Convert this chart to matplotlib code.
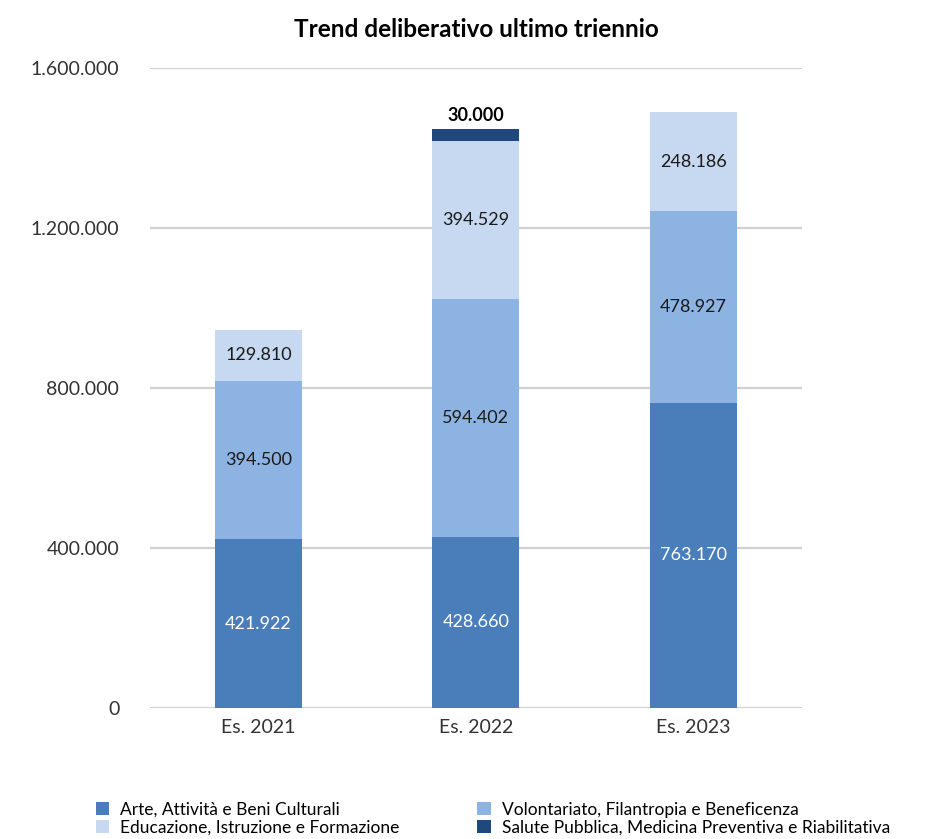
"""
Trend deliberativo ultimo triennio - stacked bars
"""
import matplotlib.pyplot as plt
from matplotlib.ticker import FuncFormatter

plt.rcParams['font.family'] = ['Lato', 'DejaVu Sans']

years = ['Es. 2021', 'Es. 2022', 'Es. 2023']
arte = [421922, 428660, 763170]
volontariato = [394500, 594402, 478927]
educazione = [129810, 394529, 248186]
salute = [0, 30000, 0]

series = [
    ('Arte, Attività e Beni Culturali', arte, '#4a7ebb', 'white'),
    ('Volontariato, Filantropia e Beneficenza', volontariato, '#8db3e2', '#1a1a1a'),
    ('Educazione, Istruzione e Formazione', educazione, '#c6d9f0', '#1a1a1a'),
    ('Salute Pubblica, Medicina Preventiva e Riabilitativa', salute, '#1f497d', '#1a1a1a'),
]


def it_fmt(v):
    return f'{int(round(v)):,}'.replace(',', '.')


fig = plt.figure(figsize=(9.25, 8.39), dpi=100)
ax = fig.add_axes([0.162, 0.156, 0.705, 0.763])

x = range(len(years))
bottom = [0, 0, 0]
handles = {}
for name, vals, color, tcolor in series:
    bars = ax.bar(x, vals, width=0.4, bottom=bottom, color=color, zorder=3)
    handles[name] = bars
    for i, v in enumerate(vals):
        if v == 0:
            continue
        if name.startswith('Salute'):
            ax.text(i, bottom[i] + v + 12000, it_fmt(v), ha='center', va='bottom',
                    fontsize=13, fontweight='bold', color='black')
        else:
            ax.text(i, bottom[i] + v / 2, it_fmt(v), ha='center', va='center',
                    fontsize=13, color=tcolor)
    bottom = [b + v for b, v in zip(bottom, vals)]

ax.set_xlim(-0.5, 2.5)
ax.set_ylim(0, 1600000)
ax.set_yticks([0, 400000, 800000, 1200000, 1600000])
ax.yaxis.set_major_formatter(FuncFormatter(lambda v, p: it_fmt(v)))
ax.set_xticks(list(x))
ax.set_xticklabels(years)
ax.tick_params(axis='both', length=0, labelsize=14, colors='#333333')
ax.tick_params(axis='y', pad=22)
ax.tick_params(axis='x', pad=8)
ax.grid(axis='y', color='#d0d0d0', linewidth=1.6, zorder=0)
for s in ax.spines.values():
    s.set_visible(False)

ax.set_title('Trend deliberativo ultimo triennio', fontsize=17.5, fontweight='bold',
             pad=22)

order = ['Arte, Attività e Beni Culturali',
         'Educazione, Istruzione e Formazione',
         'Volontariato, Filantropia e Beneficenza',
         'Salute Pubblica, Medicina Preventiva e Riabilitativa']
fig.legend([handles[n] for n in order], order, ncol=2, loc='lower left',
           bbox_to_anchor=(0.092, -0.008), frameon=False, fontsize=12.5,
           handlelength=0.8, handleheight=0.8, handletextpad=0.6,
           columnspacing=4.5, labelspacing=0.1, borderaxespad=0.2)

fig.savefig('out.png', dpi=100)
